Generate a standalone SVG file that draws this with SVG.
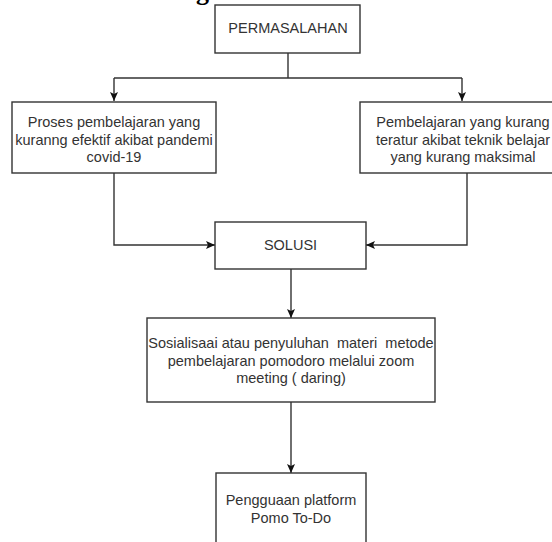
<svg xmlns="http://www.w3.org/2000/svg" width="552" height="542" viewBox="0 0 552 542">
<style>
.box{fill:#ffffff;stroke:#333333;stroke-width:1.4}
.t{font-family:"Liberation Sans",Arial,sans-serif;font-size:14.5px;fill:#333333;text-anchor:middle;white-space:pre}
.c{fill:none;stroke:#333333;stroke-width:1.4}
.title{font-family:"Liberation Serif","Times New Roman",serif;font-size:26px;font-weight:bold;fill:#000000}
</style>
<defs>
<marker id="arr" markerUnits="userSpaceOnUse" markerWidth="10" markerHeight="10" viewBox="0 0 10 8" refX="9" refY="4" orient="auto">
<path d="M0,0 L9,4 L0,8 L2,4 z" fill="#111111"/>
</marker>
</defs>
<rect width="552" height="542" fill="#ffffff"/>
<text class="title" x="196" y="0">g</text>
<g id="connectors">
<path class="c" d="M288,53 V78"/>
<path class="c" d="M114,78 H462"/>
<path class="c" d="M114,78 V101" marker-end="url(#arr)"/>
<path class="c" d="M462,78 V101" marker-end="url(#arr)"/>
<path class="c" d="M114,173 V245 H215" marker-end="url(#arr)"/>
<path class="c" d="M467,173 V245 H366" marker-end="url(#arr)"/>
<path class="c" d="M291,269 V318" marker-end="url(#arr)"/>
<path class="c" d="M291,402 V473" marker-end="url(#arr)"/>
</g>
<g id="permasalahan">
<rect class="box" x="215" y="5" width="145" height="48"/>
<text class="t" x="288" y="33">PERMASALAHAN</text>
</g>
<g id="masalah1">
<rect class="box" x="12" y="102" width="204" height="71"/>
<text class="t" x="114" y="127">Proses pembelajaran yang</text>
<text class="t" x="114" y="144.5">kuranng efektif akibat pandemi</text>
<text class="t" x="114" y="162">covid-19</text>
</g>
<g id="masalah2">
<rect class="box" x="360" y="102" width="210" height="71"/>
<text class="t" x="463" y="127">Pembelajaran yang kurang</text>
<text class="t" x="463" y="144.5">teratur akibat teknik belajar</text>
<text class="t" x="463" y="162">yang kurang maksimal</text>
</g>
<g id="solusi">
<rect class="box" x="215" y="222" width="151" height="47"/>
<text class="t" x="290.5" y="250">SOLUSI</text>
</g>
<g id="sosialisasi">
<rect class="box" x="147" y="318" width="288" height="84"/>
<text class="t" x="291" y="348">Sosialisaai atau penyuluhan  materi  metode</text>
<text class="t" x="291" y="365.5">pembelajaran pomodoro melalui zoom</text>
<text class="t" x="291" y="383">meeting ( daring)</text>
</g>
<g id="pengguaan">
<rect class="box" x="216" y="473" width="150" height="90"/>
<text class="t" x="291" y="505">Pengguaan platform</text>
<text class="t" x="291" y="523">Pomo To-Do</text>
</g>
</svg>
